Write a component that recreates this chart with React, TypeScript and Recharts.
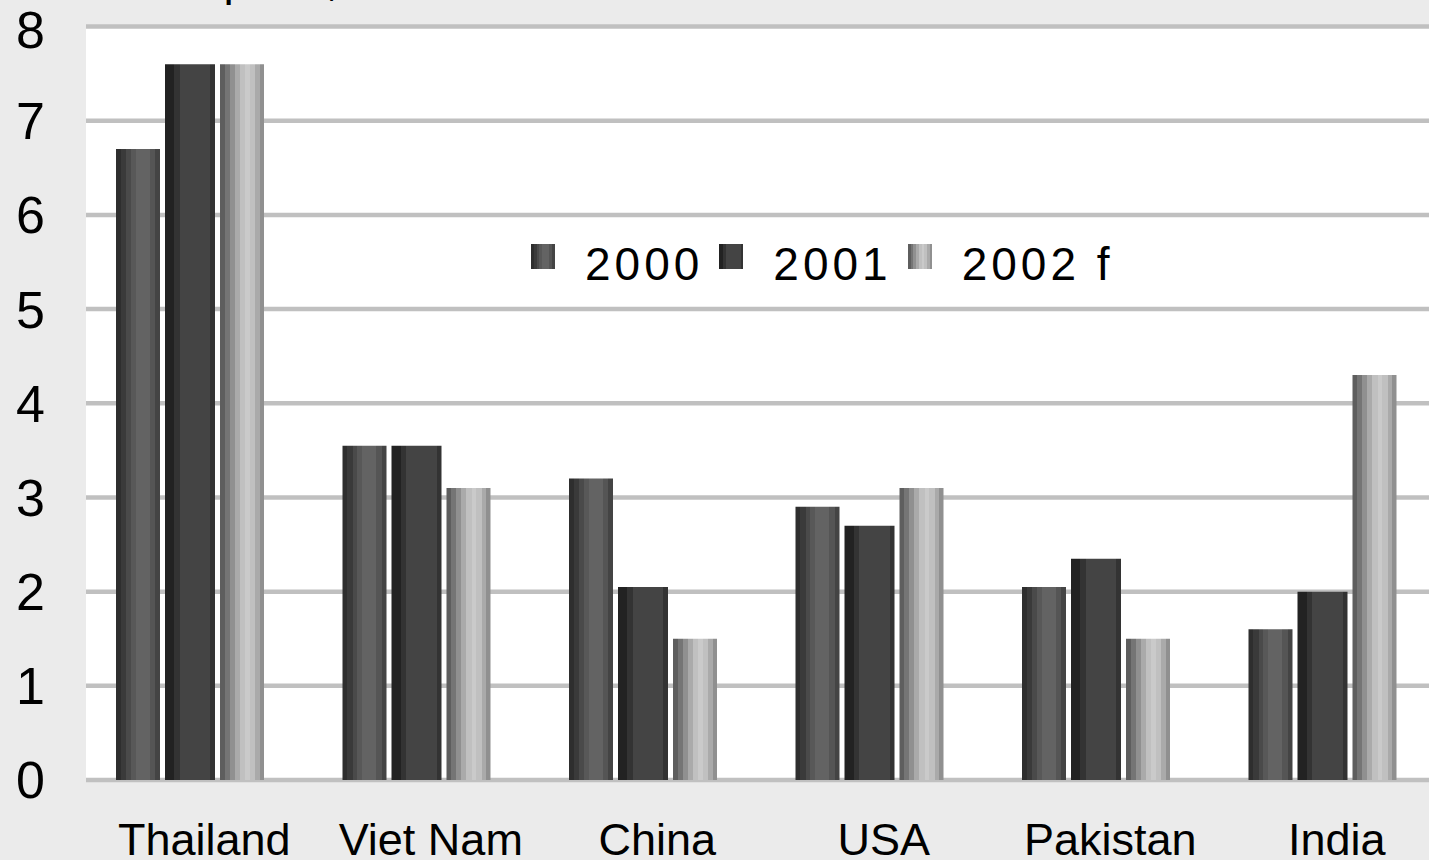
import React from 'react';
import { BarChart, Bar, XAxis, YAxis, CartesianGrid, Legend } from 'recharts';

const categories = ['Thailand', 'Viet Nam', 'China', 'USA', 'Pakistan', 'India'];
const values2000 = [6.7, 3.55, 3.2, 2.9, 2.05, 1.6];
const values2001 = [7.6, 3.55, 2.05, 2.7, 2.35, 2.0];
const values2002 = [7.6, 3.1, 1.5, 3.1, 1.5, 4.3];
const seriesNames = ['2000', '2001', '2002 f'];
const yTicks = [0, 1, 2, 3, 4, 5, 6, 7, 8];

const data = categories.map((c, i) => ({
  name: c,
  s2000: values2000[i],
  s2001: values2001[i],
  s2002: values2002[i],
}));

const FONT = '"Liberation Sans", Arial, sans-serif';

const seriesDefs = [
  { key: 's2000', name: seriesNames[0], grad: 'g2000', size: 44 },
  { key: 's2001', name: seriesNames[1], grad: 'g2001', size: 50 },
  { key: 's2002', name: seriesNames[2], grad: 'g2002', size: 44 },
];

type Stop = [number, number, string];
const stops2000: Stop[] = [
  [0, 0.11, '#2e2e2e'], [0.11, 0.23, '#3a3a3a'], [0.23, 0.34, '#4a4a4a'],
  [0.34, 0.45, '#585858'], [0.45, 0.77, '#636363'], [0.77, 0.89, '#555555'], [0.89, 1, '#444444'],
];
const stops2001: Stop[] = [
  [0, 0.18, '#222222'], [0.18, 0.29, '#333333'], [0.29, 0.9, '#444444'], [0.9, 1, '#333333'],
];
const stops2002: Stop[] = [
  [0, 0.11, '#5e5e5e'], [0.11, 0.22, '#757575'], [0.22, 0.34, '#909090'], [0.34, 0.45, '#aaaaaa'],
  [0.45, 0.57, '#c0c0c0'], [0.57, 0.68, '#cacaca'], [0.68, 0.8, '#c0c0c0'], [0.8, 0.9, '#aaaaaa'], [0.9, 1, '#909090'],
];

const makeGrad = (id: string, stops: Stop[]) => (
  <linearGradient id={id} x1="0" y1="0" x2="1" y2="0" key={id}>
    {stops.flatMap(([a, b, c], i) => [
      <stop key={`${i}a`} offset={a} stopColor={c} />,
      <stop key={`${i}b`} offset={b} stopColor={c} />,
    ])}
  </linearGradient>
);

const renderLegend = () => (
  <div style={{ display: 'flex', alignItems: 'flex-start', fontFamily: FONT, fontSize: 46, lineHeight: '46px', color: '#000', whiteSpace: 'nowrap' }}>
    {seriesDefs.map((s) => (
      <div key={s.key} style={{ display: 'flex', alignItems: 'flex-start', marginRight: 16 }}>
        <svg width={24} height={25} style={{ marginTop: 3 }}>
          <rect x={0} y={0} width={24} height={25} fill={`url(#${s.grad})`} />
        </svg>
        <span style={{ marginLeft: 30, letterSpacing: 4 }}>{s.name}</span>
      </div>
    ))}
  </div>
);

export default function App() {
  return (
    <div style={{ position: 'fixed', left: 0, top: 0, width: 1429, height: 860, overflow: 'hidden', background: '#ebebeb' }}>
      <div style={{ position: 'absolute', left: 70, top: -44, fontFamily: FONT, fontSize: 46, lineHeight: '46px', color: '#000', whiteSpace: 'nowrap' }}>
        Rice exports, million t
      </div>
      <BarChart
        width={1436}
        height={860}
        data={data}
        margin={{ top: 26.5, right: 0, bottom: 0, left: 0 }}
        barGap={5}
      >
        <defs>
          {makeGrad('g2000', stops2000)}
          {makeGrad('g2001', stops2001)}
          {makeGrad('g2002', stops2002)}
        </defs>
        <CartesianGrid vertical={false} stroke="#c0c0c0" strokeWidth={4.5} fill="#ffffff" />
        <XAxis
          dataKey="name"
          height={80}
          axisLine={false}
          tickLine={false}
          tickSize={0}
          tickMargin={43}
          padding={{ left: -9, right: 0 }}
          interval={0}
          tick={{ fontFamily: FONT, fontSize: 45, fill: '#000', dx: 14 }}
        />
        <YAxis
          width={86}
          domain={[0, 8]}
          ticks={yTicks}
          axisLine={false}
          tickLine={false}
          tickSize={0}
          tickMargin={41}
          tick={{ fontFamily: FONT, fontSize: 52, fill: '#000' }}
        />
        <Legend layout="horizontal" verticalAlign="middle" align="center" content={renderLegend}
          wrapperStyle={{ position: 'absolute', left: 531, top: 241, width: 'auto', height: 'auto' }} />
        {seriesDefs.map((s) => (
          <Bar key={s.key} dataKey={s.key} name={s.name} fill={`url(#${s.grad})`} barSize={s.size} isAnimationActive={false} />
        ))}
      </BarChart>
    </div>
  );
}
